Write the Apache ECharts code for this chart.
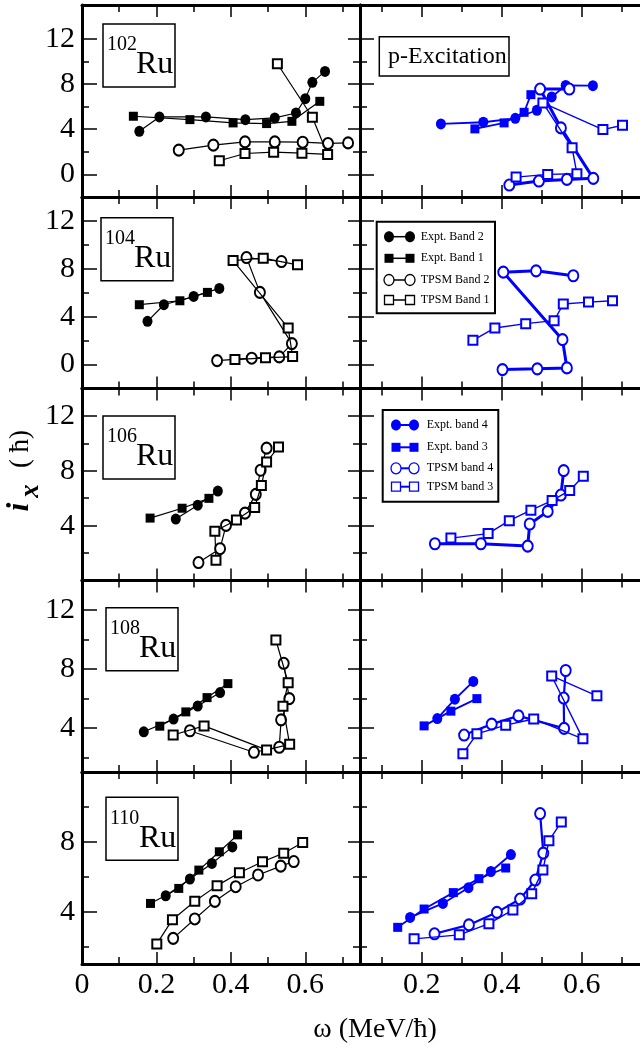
<!DOCTYPE html>
<html><head><meta charset="utf-8">
<script src="https://cdn.jsdelivr.net/npm/echarts@6/dist/echarts.min.js"></script>
<style>html,body{margin:0;padding:0;background:#fff}#c{width:640px;height:1051px}</style>
</head><body><div id="c"></div>
<script>
// ---------------- DATA (omega [MeV/hbar], i_x [hbar]) ----------------
// 102Ru
const ru102_exptB2 = [[0.154,3.82],[0.208,5.09],[0.333,5.09],[0.439,4.85],[0.518,5.00],[0.575,5.44],[0.600,6.71],[0.619,8.15],[0.653,9.12]];
const ru102_exptB1 = [[0.138,5.15],[0.290,4.85],[0.406,4.56],[0.496,4.50],[0.564,4.70],[0.639,6.47]];
const ru102_tpsmB2 = [[0.260,2.15],[0.353,2.59],[0.438,2.88],[0.518,2.88],[0.593,2.85],[0.661,2.74],[0.715,2.79]];
const ru102_tpsmB1 = [[0.369,1.21],[0.438,1.85],[0.515,1.97],[0.591,1.88],[0.660,1.77],[0.619,5.06],[0.525,9.80]];
const ru102_exptB4 = [[0.248,4.47],[0.354,4.62],[0.434,4.97],[0.488,5.68],[0.525,6.86],[0.560,7.88],[0.628,7.86]];
const ru102_exptB3 = [[0.333,4.03],[0.406,4.56],[0.456,5.50],[0.473,7.06]];
const ru102_tpsmB4 = [[0.419,-0.94],[0.493,-0.59],[0.563,-0.44],[0.629,-0.35],[0.548,4.12],[0.496,7.56],[0.569,7.56]];
const ru102_tpsmB3 = [[0.436,-0.24],[0.515,0.00],[0.588,0.06],[0.576,2.36],[0.503,6.33],[0.653,3.97],[0.702,4.35]];
// 104Ru
const ru104_exptB2 = [[0.176,3.61],[0.220,5.00],[0.300,5.69],[0.369,6.36]];
const ru104_exptB1 = [[0.154,5.00],[0.263,5.33],[0.337,6.03]];
const ru104_tpsmB2 = [[0.363,0.33],[0.456,0.53],[0.530,0.64],[0.564,1.75],[0.478,6.03],[0.442,8.94],[0.536,8.61]];
const ru104_tpsmB1 = [[0.411,0.42],[0.493,0.56],[0.566,0.67],[0.554,3.06],[0.406,8.69],[0.487,8.89],[0.579,8.33]];
const ru104_exptB4 = [];
const ru104_exptB3 = [];
const ru104_tpsmB4 = [[0.402,-0.42],[0.489,-0.36],[0.563,-0.28],[0.552,2.08],[0.404,7.72],[0.486,7.83],[0.579,7.42]];
const ru104_tpsmB3 = [[0.328,2.03],[0.383,3.06],[0.460,3.42],[0.531,3.67],[0.554,5.06],[0.617,5.22],[0.677,5.33]];
// 106Ru
const ru106_exptB2 = [[0.252,4.48],[0.311,5.49],[0.365,6.52]];
const ru106_exptB1 = [[0.183,4.55],[0.269,5.27],[0.341,5.99]];
const ru106_tpsmB2 = [[0.313,1.31],[0.371,2.32],[0.387,4.02],[0.438,4.91],[0.467,6.28],[0.480,8.04],[0.496,9.65]];
const ru106_tpsmB1 = [[0.360,1.48],[0.357,3.59],[0.415,4.41],[0.464,5.32],[0.482,6.93],[0.496,8.64],[0.528,9.74]];
const ru106_exptB4 = [];
const ru106_exptB3 = [];
const ru106_tpsmB4 = [[0.233,2.68],[0.348,2.68],[0.465,2.51],[0.470,4.12],[0.515,5.04],[0.548,6.23],[0.555,8.01]];
const ru106_tpsmB3 = [[0.273,3.09],[0.366,3.42],[0.419,4.36],[0.473,5.13],[0.526,5.83],[0.570,6.57],[0.604,7.60]];
// 108Ru
const ru108_exptB2 = [[0.166,3.73],[0.246,4.59],[0.311,5.48],[0.371,6.39]];
const ru108_exptB1 = [[0.209,4.11],[0.279,5.08],[0.336,6.05],[0.392,7.00]];
const ru108_tpsmB2 = [[0.290,3.80],[0.462,2.34],[0.530,2.68],[0.535,4.54],[0.557,5.98],[0.542,8.38]];
const ru108_tpsmB1 = [[0.245,3.51],[0.328,4.13],[0.496,2.50],[0.558,2.88],[0.540,5.46],[0.554,7.06],[0.521,9.96]];
const ru108_exptB4 = [[0.239,4.63],[0.283,5.94],[0.329,7.15]];
const ru108_exptB3 = [[0.206,4.13],[0.273,5.13],[0.338,5.98]];
const ru108_tpsmB4 = [[0.306,3.51],[0.375,4.25],[0.442,4.81],[0.556,3.96],[0.555,6.02],[0.560,7.89]];
const ru108_tpsmB3 = [[0.303,2.24],[0.338,3.59],[0.410,4.18],[0.480,4.60],[0.603,3.25],[0.525,7.52],[0.638,6.17]];
// 110Ru
const ru110_exptB2 = [[0.225,4.91],[0.290,5.87],[0.349,6.76],[0.404,7.71]];
const ru110_exptB1 = [[0.184,4.47],[0.260,5.33],[0.314,6.38],[0.369,7.43],[0.418,8.40]];
const ru110_tpsmB2 = [[0.245,2.47],[0.303,3.58],[0.357,4.59],[0.413,5.43],[0.473,6.10],[0.534,6.61],[0.569,6.87]];
const ru110_tpsmB1 = [[0.201,2.15],[0.243,3.54],[0.303,4.59],[0.363,5.49],[0.423,6.23],[0.485,6.86],[0.542,7.35],[0.593,7.96]];
const ru110_exptB4 = [[0.171,3.67],[0.253,4.47],[0.317,5.37],[0.373,6.30],[0.423,7.27]];
const ru110_exptB3 = [[0.140,3.10],[0.206,4.15],[0.279,5.09],[0.343,5.89],[0.410,6.50]];
const ru110_tpsmB4 = [[0.232,2.73],[0.318,3.24],[0.388,3.96],[0.446,4.72],[0.484,5.81],[0.504,7.35],[0.496,9.62]];
const ru110_tpsmB3 = [[0.181,2.44],[0.294,2.67],[0.368,3.31],[0.428,4.10],[0.475,5.03],[0.503,6.38],[0.518,8.06],[0.549,9.14]];

// ---------------- TEXT / TICKS ----------------
const nuclei = ['102', '104', '106', '108', '110'];
const yTickLabels = [[0,4,8,12],[0,4,8,12],[4,8,12],[4,8,12],[4,8]];
const yMinorTicks = [[2,6,10],[2,6,10],[2,6,10],[2,6,10],[2,6,10]];
const xTickLabelsLeft = [0, 0.2, 0.4, 0.6];
const xTickLabelsRight = [0.2, 0.4, 0.6];
const xMinorTicks = [0.1, 0.3, 0.5, 0.7];
const legendLeftNames = ['Expt. Band 2', 'Expt. Band 1', 'TPSM Band 2', 'TPSM Band 1'];
const legendRightNames = ['Expt. band 4', 'Expt. band 3', 'TPSM band 4', 'TPSM band 3'];
const xTitle = 'ω (MeV/ħ)';

// ---------------- LAYOUT ----------------
const FONT = '"Liberation Serif", "Times New Roman", serif';
const BLUE = '#0000ff';
const rows = [
  {top:5,     bottom:197,   ymin:-2, ymax:15},
  {top:197,   bottom:388.5, ymin:-2, ymax:14},
  {top:388.5, bottom:580.5, ymin:0,  ymax:14},
  {top:580.5, bottom:772,   ymin:1,  ymax:14},
  {top:772,   bottom:964,   ymin:1,  ymax:12}
];
const cols = [
  {left:82,  width:278, xmin:0,       xmax:0.747},
  {left:360, width:280, xmin:0.04575, xmax:0.74575}
];
const panelData = [
  [[ru102_exptB2,ru102_exptB1,ru102_tpsmB2,ru102_tpsmB1],[ru102_exptB4,ru102_exptB3,ru102_tpsmB4,ru102_tpsmB3]],
  [[ru104_exptB2,ru104_exptB1,ru104_tpsmB2,ru104_tpsmB1],[ru104_exptB4,ru104_exptB3,ru104_tpsmB4,ru104_tpsmB3]],
  [[ru106_exptB2,ru106_exptB1,ru106_tpsmB2,ru106_tpsmB1],[ru106_exptB4,ru106_exptB3,ru106_tpsmB4,ru106_tpsmB3]],
  [[ru108_exptB2,ru108_exptB1,ru108_tpsmB2,ru108_tpsmB1],[ru108_exptB4,ru108_exptB3,ru108_tpsmB4,ru108_tpsmB3]],
  [[ru110_exptB2,ru110_exptB1,ru110_tpsmB2,ru110_tpsmB1],[ru110_exptB4,ru110_exptB3,ru110_tpsmB4,ru110_tpsmB3]]
];

const grids = [], xAxes = [], yAxes = [], series = [];
const labelStyle = {color:'#000', fontFamily:FONT, fontSize:30};
function axis(gi, pos, min, max, ticks, len, line, labels, margin) {
  return {
    type:'value', gridIndex:gi, position:pos, min:min, max:max, silent:true,
    axisLine:{show:line, onZero:false, lineStyle:{color:'#000', width:3}},
    axisTick:{show:true, inside:true, length:len, customValues:ticks, lineStyle:{color:'#000', width:1.5}},
    axisLabel: labels ? Object.assign({show:true, customValues:labels, margin:margin, hideOverlap:false,
       showMinLabel:true, showMaxLabel:true,
       formatter: v => (Math.abs(v) < 1e-9 ? '0' : (Number.isInteger(v) ? String(v) : v.toFixed(1)))}, labelStyle)
       : {show:false},
    splitLine:{show:false}, splitArea:{show:false}, minorTick:{show:false}, minorSplitLine:{show:false}
  };
}
const MAJ = 12, MIN = 7;
rows.forEach((r, ri) => {
  cols.forEach((c, ci) => {
    const gi = grids.length;
    grids.push({left:c.left, top:r.top, width:c.width, height:r.bottom - r.top, containLabel:false, outerBoundsMode:'none', show:false});
    const xMajor = [0.2, 0.4, 0.6];
    const xLab = ri === 4 ? (ci === 0 ? xTickLabelsLeft : xTickLabelsRight) : null;
    const xi = xAxes.length;
    xAxes.push(axis(gi, 'bottom', c.xmin, c.xmax, xMajor, MAJ, true, xLab, 6));
    xAxes.push(axis(gi, 'bottom', c.xmin, c.xmax, xMinorTicks, MIN, false, null));
    xAxes.push(axis(gi, 'top', c.xmin, c.xmax, xMajor, MAJ, true, null));
    xAxes.push(axis(gi, 'top', c.xmin, c.xmax, xMinorTicks, MIN, false, null));
    const yi = yAxes.length;
    const yMaj = yTickLabels[ri];
    yAxes.push(axis(gi, 'left', r.ymin, r.ymax, yMaj, ci === 0 ? 15 : 14, true, ci === 0 ? yMaj : null, 7));
    yAxes.push(axis(gi, 'left', r.ymin, r.ymax, yMinorTicks[ri], MIN, false, null));
    if (ci === 0) {
      yAxes.push(axis(gi, 'right', r.ymin, r.ymax, yMaj, MAJ, true, null));
      yAxes.push(axis(gi, 'right', r.ymin, r.ymax, yMinorTicks[ri], MIN, false, null));
    }
    const col = ci === 0 ? '#000' : BLUE;
    const names = ci === 0 ? legendLeftNames : legendRightNames;
    const kinds = ['fc', 'fs', 'oc', 'os'];
    const widths = ci === 0 ? [1.2, 1.2, 1.2, 1.2] : [1.8, 1.8, ri < 3 ? 3 : 2.2, 1.4];
    const d = panelData[ri][ci];
    kinds.forEach((k, si) => {
      const filled = k[0] === 'f';
      const circ = k[1] === 'c';
      series.push({
        type:'line', name:names[si], data:d[si], xAxisIndex:xi, yAxisIndex:yi,
        symbol: filled ? (circ ? 'circle' : 'rect') : (circ ? 'emptyCircle' : 'emptyRect'),
        symbolSize: circ ? [10, 11] : [9, 9], showSymbol:true, showAllSymbol:true,
        lineStyle:{color:col, width:widths[si]},
        itemStyle:{color:col, borderColor:col, borderWidth: filled ? 0 : 1.3},
        animation:false, silent:true, clip:true, z: 2 + si
      });
    });
  });
});

// ---------------- GRAPHIC (labels, boxes, legends, titles) ----------------
const graphic = [];
function txt(x, y, text, size, opt) {
  return Object.assign({type:'text', x:x, y:y, silent:true, z:100,
    style:Object.assign({text:text, fontFamily:FONT, fontSize:size, fill:'#000', align:'left', verticalAlign:'middle'}, (opt && opt.style) || {})},
    opt && opt.rotation !== undefined ? {rotation:opt.rotation} : {});
}
const boxes = [[103,24],[101,217.7],[103,416],[106,607.7],[106,797.3]];
boxes.forEach((b, i) => {
  graphic.push({type:'rect', shape:{x:b[0], y:b[1], width:72, height:63}, style:{fill:'#fff', stroke:'#000', lineWidth:1.5}, z:90, silent:true});
  graphic.push(txt(b[0] + 4, b[1] + 21, nuclei[i], 20));
  graphic.push(txt(b[0] + 33, b[1] + 41, 'Ru', 32));
});
graphic.push({type:'rect', shape:{x:379.3, y:36.7, width:129.7, height:39.3}, style:{fill:'#fff', stroke:'#000', lineWidth:1.5}, z:90, silent:true});
graphic.push(txt(388, 57, 'p-Excitation', 24));

function legend(box, ys, sx1, sx2, tx, names, col, lw) {
  graphic.push({type:'rect', shape:{x:box[0], y:box[1], width:box[2], height:box[3]}, style:{fill:'#fff', stroke:'#000', lineWidth:2}, z:90, silent:true});
  ys.forEach((y, i) => {
    graphic.push({type:'line', shape:{x1:sx1, y1:y, x2:sx2, y2:y}, style:{stroke:col, lineWidth:lw}, z:95, silent:true});
    [sx1, sx2].forEach(sx => {
      if (i === 0) graphic.push({type:'ellipse', shape:{cx:sx, cy:y, rx:5, ry:5.5}, style:{fill:col}, z:96, silent:true});
      if (i === 1) graphic.push({type:'rect', shape:{x:sx - 4.5, y:y - 4.5, width:9, height:9}, style:{fill:col}, z:96, silent:true});
      if (i === 2) graphic.push({type:'ellipse', shape:{cx:sx, cy:y, rx:5, ry:5.5}, style:{fill:'#fff', stroke:col, lineWidth:1.3}, z:96, silent:true});
      if (i === 3) graphic.push({type:'rect', shape:{x:sx - 4.5, y:y - 4.5, width:9, height:9}, style:{fill:'#fff', stroke:col, lineWidth:1.3}, z:96, silent:true});
    });
    graphic.push(txt(tx, y, names[i], 12));
  });
}
legend([376.7, 221.7, 118.3, 91.6], [236.7, 258.3, 280, 300], 389, 410, 420.7, legendLeftNames, '#000', 1.5);
legend([382.7, 410, 115.6, 91.7], [425, 447.3, 468.3, 486.7], 396, 414, 426.7, legendRightNames, BLUE, 2);

// axis titles
graphic.push(txt(375, 1030, xTitle, 28, {style:{align:'center'}}));
graphic.push(txt(20, 507, 'i', 32, {rotation:Math.PI / 2, style:{align:'center', fontStyle:'italic', fontWeight:'bold'}}));
graphic.push(txt(31, 491, 'x', 27, {rotation:Math.PI / 2, style:{align:'center', fontStyle:'italic', fontWeight:'bold'}}));
graphic.push(txt(21, 449, '( ħ)', 27, {rotation:Math.PI / 2, style:{align:'center'}}));

const chart = echarts.init(document.getElementById('c'), null, {renderer:'canvas'});
chart.setOption({
  animation:false,
  backgroundColor:'#fff',
  grid:grids, xAxis:xAxes, yAxis:yAxes, series:series, graphic:graphic,
  tooltip:{show:false}, legend:{show:false}
});
</script></body></html>
